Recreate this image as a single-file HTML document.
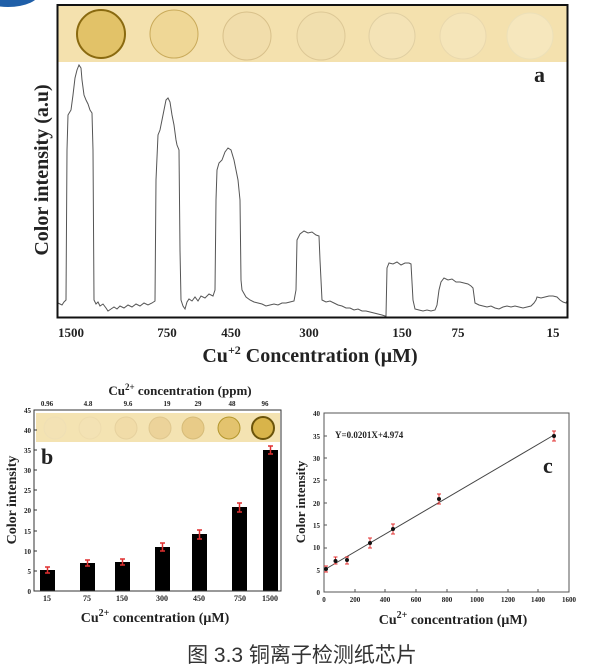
<!DOCTYPE html>
<html><head><meta charset="utf-8"><style>
html,body{margin:0;padding:0;background:#fff;}
svg{display:block;}
text{font-family:"Liberation Serif",serif;font-weight:bold;fill:#222;}
</style></head><body>
<svg width="600" height="667" viewBox="0 0 600 667" xmlns="http://www.w3.org/2000/svg">
<ellipse cx="8" cy="-8" rx="32" ry="15" fill="#1f5fa8"/>
<!-- Panel a -->
<rect x="57" y="5" width="511" height="57" fill="#f4e1ae"/>
<g fill="none">
<circle cx="101" cy="34" r="24" fill="#e2c268" stroke="#8a6a10" stroke-width="2"/>
<circle cx="174" cy="34" r="24" fill="#efd796" stroke="#c9aa5a" stroke-width="1"/>
<circle cx="247" cy="36" r="24" fill="#f1ddab" stroke="#d8c08a" stroke-width="1"/>
<circle cx="321" cy="36" r="24" fill="#f1dfae" stroke="#ddc896" stroke-width="1"/>
<circle cx="392" cy="36" r="23" fill="#f4e3b6" stroke="#e0cfa2" stroke-width="1"/>
<circle cx="463" cy="36" r="23" fill="#f5e5b9" stroke="#e9d8ad" stroke-width="1"/>
<circle cx="530" cy="36" r="23" fill="#f6e7bd" stroke="#ece0b8" stroke-width="1"/>
</g>
<polyline fill="none" stroke="#555" stroke-width="1" points="58,303 62,305 64,302 66,300 67,150 68,115 71,110 73,95 75,78 77,70 79,65 81,68 82,80 84,95 86,100 88,104 90,110 92,113 93,150 94,300 96,304 98,302 100,306 103,304 106,308 108,311 111,309 114,307 117,309 120,306 124,308 128,305 132,307 136,304 140,306 144,303 148,305 152,303 155,301 156,180 158,135 160,130 162,120 164,110 166,100 168,98 170,102 172,115 174,125 176,140 177,145 179,150 180,250 181,300 183,306 185,309 187,302 189,299 192,301 195,297 198,301 201,296 205,298 209,294 213,296 215,290 216,200 217,170 219,163 222,160 225,152 228,148 231,150 234,160 236,170 238,180 240,200 241,280 242,290 246,297 250,300 254,302 258,303 262,304 266,306 270,305 274,304 278,305 282,303 286,303 290,302 294,301 296,290 297,240 300,234 304,231 308,233 312,232 316,235 319,236 320,260 322,300 326,302 330,301 334,303 338,305 342,306 346,308 350,308 354,310 358,309 362,311 366,311 370,312 374,313 378,314 382,315 385,316 386,316 387,268 389,263 393,264 397,262 401,265 405,263 409,263 411,264 413,300 415,309 419,310 423,311 427,310 431,311 435,310 437,305 439,290 441,282 444,278 448,280 452,279 456,282 460,282 464,283 468,284 471,286 473,288 475,303 479,305 483,306 487,307 491,306 495,308 499,309 503,307 507,306 511,307 515,306 519,307 523,308 527,307 531,306 534,303 536,300 537,297 541,298 545,297 549,296 553,296 557,297 560,300 563,302 566,303 567,301"/>
<rect x="57.5" y="5" width="510" height="312.5" fill="none" stroke="#111" stroke-width="2"/>
<text x="534" y="82" font-size="22">a</text>
<g font-size="13" text-anchor="middle">
<text x="71" y="337">1500</text><text x="167" y="337">750</text><text x="231" y="337">450</text><text x="309" y="337">300</text><text x="402" y="337">150</text><text x="458" y="337">75</text><text x="553" y="337">15</text>
</g>
<text x="310" y="362" font-size="20" text-anchor="middle">Cu<tspan dy="-8" font-size="12">+2</tspan><tspan dy="8"> Concentration (μM)</tspan></text>
<text transform="translate(48,170) rotate(-90)" font-size="20" text-anchor="middle">Color intensity (a.u)</text>

<!-- Panel b -->
<text x="180" y="395" font-size="13" text-anchor="middle">Cu<tspan dy="-5" font-size="9">2+</tspan><tspan dy="5"> concentration (ppm)</tspan></text>
<g font-size="7" text-anchor="middle">
<text x="47" y="406">0.96</text><text x="88" y="406">4.8</text><text x="128" y="406">9.6</text><text x="167" y="406">19</text><text x="198" y="406">29</text><text x="232" y="406">48</text><text x="265" y="406">96</text>
</g>
<rect x="36" y="413" width="244" height="29" fill="#f4e3b2"/>
<circle cx="55" cy="428" r="11" fill="#f3e2b4" stroke="#efdfb5"/>
<circle cx="90" cy="428" r="11" fill="#f3e2b4" stroke="#eedcad"/>
<circle cx="126" cy="428" r="11" fill="#f1dca8" stroke="#e6d19e"/>
<circle cx="160" cy="428" r="11" fill="#ecd39a" stroke="#dfc78e"/>
<circle cx="193" cy="428" r="11" fill="#e8cb88" stroke="#d6bb78"/>
<circle cx="229" cy="428" r="11" fill="#e3c36e" stroke="#b3962c"/>
<circle cx="263" cy="428" r="11" fill="#d8b44a" stroke="#6b540a" stroke-width="2"/>
<g fill="#000">
<rect x="40" y="570" width="15" height="21"/>
<rect x="80" y="563" width="15" height="28"/>
<rect x="115" y="562" width="15" height="29"/>
<rect x="155" y="547" width="15" height="44"/>
<rect x="192" y="534" width="15" height="57"/>
<rect x="232" y="507" width="15" height="84"/>
<rect x="263" y="450" width="15" height="141"/>
</g>
<g stroke="#e03030" stroke-width="1.5" fill="none">
<path d="M47.5 567v6M45 567h5M45 573h5"/>
<path d="M87.5 560v6M85 560h5M85 566h5"/>
<path d="M122.5 559v6M120 559h5M120 565h5"/>
<path d="M162.5 543v8M160 543h5M160 551h5"/>
<path d="M199.5 530v9M197 530h5M197 539h5"/>
<path d="M239.5 503v9M237 503h5M237 512h5"/>
<path d="M270.5 446v8M268 446h5M268 454h5"/>
</g>
<rect x="34" y="410" width="247" height="181" fill="none" stroke="#333" stroke-width="1"/>
<g font-size="7" text-anchor="end">
<text x="31" y="413">45</text><text x="31" y="433">40</text><text x="31" y="453">35</text><text x="31" y="473">30</text><text x="31" y="493">25</text><text x="31" y="513">20</text><text x="31" y="534">15</text><text x="31" y="554">10</text><text x="31" y="574">5</text><text x="31" y="594">0</text>
</g>
<g stroke="#333"><path d="M34 430h3M34 450h3M34 470h3M34 490h3M34 510h3M34 531h3M34 551h3M34 571h3"/></g>
<text x="41" y="464" font-size="22">b</text>
<g font-size="8" text-anchor="middle">
<text x="47" y="601">15</text><text x="87" y="601">75</text><text x="122" y="601">150</text><text x="162" y="601">300</text><text x="199" y="601">450</text><text x="240" y="601">750</text><text x="270" y="601">1500</text>
</g>
<text x="155" y="622" font-size="14" text-anchor="middle">Cu<tspan dy="-6" font-size="10">2+</tspan><tspan dy="6"> concentration (μM)</tspan></text>
<text transform="translate(16,500) rotate(-90)" font-size="14" text-anchor="middle">Color intensity</text>

<!-- Panel c -->
<rect x="324" y="413" width="245" height="179" fill="none" stroke="#555" stroke-width="1"/>
<g stroke="#555"><path d="M324 570h3M324 548h3M324 525h3M324 503h3M324 480h3M324 458h3M324 436h3M355 592v-3M385 592v-3M416 592v-3M447 592v-3M477 592v-3M508 592v-3M538 592v-3"/></g>
<g font-size="7" text-anchor="end">
<text x="320" y="595">0</text><text x="320" y="573">5</text><text x="320" y="550">10</text><text x="320" y="528">15</text><text x="320" y="506">20</text><text x="320" y="483">25</text><text x="320" y="461">30</text><text x="320" y="439">35</text><text x="320" y="416">40</text>
</g>
<g font-size="7" text-anchor="middle">
<text x="324" y="602">0</text><text x="355" y="602">200</text><text x="385" y="602">400</text><text x="416" y="602">600</text><text x="447" y="602">800</text><text x="477" y="602">1000</text><text x="508" y="602">1200</text><text x="538" y="602">1400</text><text x="569" y="602">1600</text>
</g>
<line x1="324" y1="570" x2="554" y2="435" stroke="#444" stroke-width="1"/>
<g stroke="#e03030" stroke-width="1" fill="none">
<path d="M326 566v6M324 566h4M324 572h4"/>
<path d="M335.5 557v7M333.5 557h4M333.5 564h4"/>
<path d="M347 557v7M345 557h4M345 564h4"/>
<path d="M370 538v10M368 538h4M368 548h4"/>
<path d="M393 524v10M391 524h4M391 534h4"/>
<path d="M439 494v10M437 494h4M437 504h4"/>
<path d="M554 431v10M552 431h4M552 441h4"/>
</g>
<g fill="#111">
<circle cx="326" cy="569" r="2"/><circle cx="335.5" cy="561" r="2"/><circle cx="347" cy="560" r="2"/><circle cx="370" cy="543" r="2"/><circle cx="393" cy="529" r="2"/><circle cx="439" cy="499" r="2"/><circle cx="554" cy="436" r="2"/>
</g>
<text x="335" y="438" font-size="9">Y=0.0201X+4.974</text>
<text x="543" y="473" font-size="22">c</text>
<text x="453" y="624" font-size="14" text-anchor="middle">Cu<tspan dy="-6" font-size="10">2+</tspan><tspan dy="6"> concentration (μM)</tspan></text>
<text transform="translate(305,502) rotate(-90)" font-size="13" text-anchor="middle">Color intensity</text>

<text x="302" y="662" font-size="21" text-anchor="middle" style="font-family:'Liberation Sans','Noto Sans CJK SC',sans-serif;font-weight:normal;fill:#333">图 3.3 铜离子检测纸芯片</text>
</svg>
</body></html>
